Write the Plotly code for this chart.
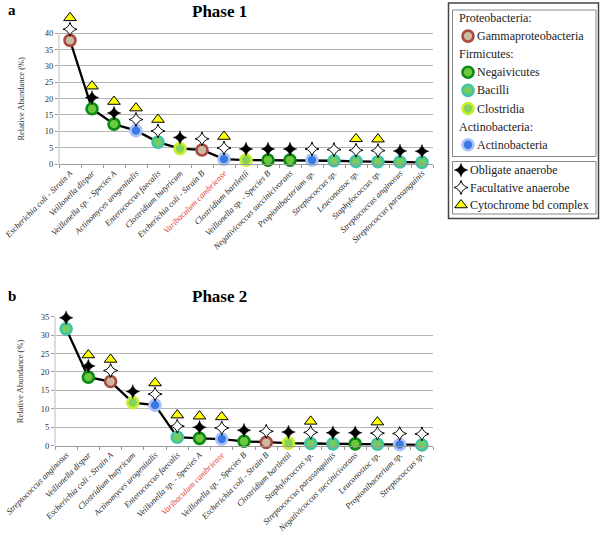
import plotly.graph_objects as go

# ---------------- data ----------------
p1_species = ["Escherichia coli - Strain A", "Veillonella dispar", "Veillonella sp. - Species A",
              "Actinomyces urogenitalis", "Enterococcus faecalis", "Clostridium butyricum",
              "Escherichia coli - Strain B", "Varibaculum cambriense", "Clostridium bartlettii",
              "Veillonella sp. - Species B", "Negativicoccus succinicivorans", "Propionibacterium sp.",
              "Streptococcus sp.", "Leuconostoc sp.", "Staphylococcus sp.",
              "Streptococcus anginosus", "Streptococcus parasanguinis"]
p1_values = [37.8, 16.9, 12.2, 10.2, 6.7, 4.7, 4.3, 1.5, 1.2, 1.2, 1.2, 1.2, 1.0, 0.8, 0.7, 0.6, 0.5]
p1_class = ["Gamma", "Nega", "Nega", "Actino", "Bacilli", "Clost", "Gamma", "Actino", "Clost",
            "Nega", "Nega", "Actino", "Bacilli", "Bacilli", "Bacilli", "Bacilli", "Bacilli"]
p1_anaerobe = ["F", "O", "O", "F", "F", "O", "F", "F", "O", "O", "O", "F", "F", "F", "F", "O", "O"]
p1_cyt = [1, 1, 1, 1, 1, 0, 0, 1, 0, 0, 0, 0, 0, 1, 1, 0, 0]

p2_species = ["Streptococcus anginosus", "Veillonella dispar", "Escherichia coli - Strain A",
              "Clostridium butyricum", "Actinomyces urogenitalis", "Enterococcus faecalis",
              "Veillonella sp. - Species A", "Varibaculum cambriense", "Veillonella sp. - Species B",
              "Escherichia coli - Strain B", "Clostridium bartlettii", "Staphylococcus sp.",
              "Streptococcus parasanguinis", "Negativicoccus succinicivorans", "Leuconostoc sp.",
              "Propionibacterium sp.", "Streptococcus sp."]
p2_values = [31.7, 18.6, 17.4, 11.7, 11.0, 2.3, 2.0, 1.8, 1.2, 0.9, 0.7, 0.6, 0.5, 0.5, 0.4, 0.3, 0.2]
p2_class = ["Bacilli", "Nega", "Gamma", "Clost", "Actino", "Bacilli", "Nega", "Actino", "Nega",
            "Gamma", "Clost", "Bacilli", "Bacilli", "Nega", "Bacilli", "Actino", "Bacilli"]
p2_anaerobe = ["O", "O", "F", "O", "F", "F", "O", "F", "O", "F", "O", "F", "O", "O", "F", "F", "F"]
p2_cyt = [0, 1, 1, 0, 1, 1, 1, 1, 0, 0, 0, 1, 0, 0, 1, 0, 0]

red_species = "Varibaculum cambriense"

p1_ticks = [0, 5, 10, 15, 20, 25, 30, 35, 40]
p2_ticks = [0, 5, 10, 15, 20, 25, 30, 35]

# legend content (order as in the key)
phyla = ["Proteobacteria:", "Firmicutes:", "Actinobacteria:"]
class_keys = ["Gamma", "Nega", "Bacilli", "Clost", "Actino"]
class_names = ["Gammaproteobacteria", "Negaivicutes", "Bacilli", "Clostridia", "Actinobacteria"]
class_phylum = ["Proteobacteria:", "Firmicutes:", "Firmicutes:", "Firmicutes:", "Actinobacteria:"]
trait_names = ["Obligate anaerobe", "Facultative anaerobe", "Cytochrome bd complex"]

# ---------------- styles ----------------
class_fill = {"Gamma": "#cdb9a2", "Nega": "#6cc83c", "Bacilli": "#76cc5e",
              "Clost": "#86d05c", "Actino": "#3a78e6"}
class_border = {"Gamma": "#a84a40", "Nega": "#0b8a14", "Bacilli": "#3fc4a6",
                "Clost": "#c6f02e", "Actino": "#a9c4f2"}
CIRCLE = dict(symbol="circle", size=11)
OBLIG = dict(symbol="star-diamond", size=10, color="black", line=dict(color="black", width=0.3))
FACUL = dict(symbol="star-diamond", size=10, color="white", line=dict(color="black", width=1.0))
TRI = dict(symbol="triangle-up", size=11, color="#ffff00", line=dict(color="black", width=1))

SERIF = "Liberation Serif"
H = 539.0
W = 600.0

# panel geometry (page px): plot-area x range, y of value 0, px per unit, top of axis range
P1 = dict(x0=59, x1=433, y0=164, ppu=3.27, top=47)
P2 = dict(x0=55, x1=433, y0=445.7, ppu=3.686, top=35)

fig = go.Figure()

panels = [
    (p1_species, p1_values, p1_class, p1_anaerobe, p1_cyt, "x", "y", 3.4, 6.9),
    (p2_species, p2_values, p2_class, p2_anaerobe, p2_cyt, "x2", "y2", 3.0, 6.0),
]

for sp, vals, cls, an, cyt, xa, ya, soff, toff in panels:
    fig.add_trace(go.Scatter(x=sp, y=vals, mode="lines", line=dict(color="black", width=2.3),
                             xaxis=xa, yaxis=ya, hoverinfo="skip"))
    for key, name in zip(class_keys, class_names):
        xs = [s for s, c in zip(sp, cls) if c == key]
        ys = [v for v, c in zip(vals, cls) if c == key]
        fig.add_trace(go.Scatter(
            x=xs, y=ys, mode="markers", name=name,
            marker=dict(CIRCLE, color=class_fill[key], line=dict(color=class_border[key], width=2.6)),
            xaxis=xa, yaxis=ya, cliponaxis=False))
    for code, name, mk in [("O", trait_names[0], OBLIG), ("F", trait_names[1], FACUL)]:
        xs = [s for s, a in zip(sp, an) if a == code]
        ys = [v + soff for v, a in zip(vals, an) if a == code]
        fig.add_trace(go.Scatter(x=xs, y=ys, mode="markers", name=name, marker=mk,
                                 xaxis=xa, yaxis=ya, cliponaxis=False))
    xs = [s for s, c in zip(sp, cyt) if c]
    ys = [v + toff for v, c in zip(vals, cyt) if c]
    fig.add_trace(go.Scatter(x=xs, y=ys, mode="markers", name=trait_names[2], marker=TRI,
                             xaxis=xa, yaxis=ya, cliponaxis=False))

# ---------------- key (drawn on its own hidden axes, in page-pixel units) ----------------
KX0, KY1 = 440.0, 225.0
rows = []
for ph in phyla:
    rows.append(("title", ph, None))
    for key, name, cph in zip(class_keys, class_names, class_phylum):
        if cph == ph:
            rows.append(("class", name, key))
ROW_H = 18.1
KEY_TOP = 18
annotations = []
for i, (kind, text, key) in enumerate(rows):
    yc = KEY_TOP + i * ROW_H
    if kind == "title":
        annotations.append(dict(text=text, x=457, y=yc, xref="x3", yref="y3", xanchor="left",
                                yanchor="middle", showarrow=False,
                                font=dict(family=SERIF, size=12, color="#222")))
    else:
        fig.add_trace(go.Scatter(
            x=[468], y=[yc], mode="markers", xaxis="x3", yaxis="y3", hoverinfo="skip",
            marker=dict(CIRCLE, color=class_fill[key], line=dict(color=class_border[key], width=2.6)),
            cliponaxis=False))
        annotations.append(dict(text=text, x=475, y=yc, xref="x3", yref="y3", xanchor="left",
                                yanchor="middle", showarrow=False,
                                font=dict(family=SERIF, size=12, color="#222")))
TRAIT_TOP = 170
for i, (name, mk) in enumerate(zip(trait_names, [OBLIG, FACUL, TRI])):
    yc = TRAIT_TOP + i * 17.5
    fig.add_trace(go.Scatter(x=[461], y=[yc], mode="markers", marker=mk, xaxis="x3", yaxis="y3",
                             hoverinfo="skip", cliponaxis=False))
    annotations.append(dict(text=name, x=468, y=yc, xref="x3", yref="y3", xanchor="left",
                            yanchor="middle", showarrow=False,
                            font=dict(family=SERIF, size=12, color="#222")))


def ticktext(sp):
    out = []
    for s in sp:
        if s == red_species:
            out.append("<span style='color:#e0392f'><i>%s</i></span>" % s)
        else:
            out.append("<i>%s</i>" % s)
    return out


xcommon = dict(type="category", tickangle=-45, showline=True, linecolor="#999", linewidth=1,
               ticks="outside", tickson="boundaries", ticklen=3, tickcolor="#999",
               showgrid=False, tickfont=dict(family=SERIF, size=8.5, color="#222"),
               automargin=False, fixedrange=True)
ycommon = dict(showline=False, ticks="outside", ticklen=3,
               tickcolor="#999", showgrid=True, gridcolor="#b5b5b5", gridwidth=1,
               tickfont=dict(family=SERIF, size=8.5, color="#333"), zeroline=False,
               automargin=False, fixedrange=True)


def ydomain(p):
    return [1 - p["y0"] / H, 1 - (p["y0"] - p["top"] * p["ppu"]) / H]


annotations += [
    dict(text="<b>Phase 1</b>", x=220 / W, y=1 - 12 / H, xref="paper", yref="paper",
         xanchor="center", yanchor="middle",
         showarrow=False, font=dict(family=SERIF, size=17, color="black")),
    dict(text="<b>a</b>", x=12 / W, y=1 - 10 / H, xref="paper", yref="paper",
         xanchor="center", yanchor="middle",
         showarrow=False, font=dict(family=SERIF, size=15, color="black")),
    dict(text="<b>Phase 2</b>", x=219 / W, y=1 - 296 / H, xref="paper", yref="paper",
         xanchor="center", yanchor="middle",
         showarrow=False, font=dict(family=SERIF, size=17, color="black")),
    dict(text="<b>b</b>", x=12 / W, y=1 - 296 / H, xref="paper", yref="paper",
         xanchor="center", yanchor="middle",
         showarrow=False, font=dict(family=SERIF, size=15, color="black")),
    dict(text="Relative Abundance (%)", x=21 / W, y=20, xref="paper", yref="y", textangle=-90,
         xanchor="center", yanchor="middle", showarrow=False,
         font=dict(family=SERIF, size=8.5, color="#333")),
    dict(text="Relative Abundance (%)", x=20 / W, y=17.5, xref="paper", yref="y2", textangle=-90,
         xanchor="center", yanchor="middle", showarrow=False,
         font=dict(family=SERIF, size=8.5, color="#333")),
]

fig.update_layout(
    width=600, height=539,
    margin=dict(l=0, r=0, t=0, b=0),
    plot_bgcolor="rgba(0,0,0,0)", paper_bgcolor="white",
    font=dict(family=SERIF, color="#222"),
    showlegend=False,
    xaxis=dict(xcommon, domain=[P1["x0"] / W, P1["x1"] / W], anchor="y",
               tickvals=p1_species, ticktext=ticktext(p1_species), range=[-0.5, 16.5]),
    yaxis=dict(ycommon, domain=ydomain(P1), anchor="x", range=[0, P1["top"]], tickvals=p1_ticks),
    xaxis2=dict(xcommon, domain=[P2["x0"] / W, P2["x1"] / W], anchor="y2",
                tickvals=p2_species, ticktext=ticktext(p2_species), range=[-0.5, 16.5]),
    yaxis2=dict(ycommon, domain=ydomain(P2), anchor="x2", range=[0, P2["top"]], tickvals=p2_ticks),
    xaxis3=dict(domain=[KX0 / W, 1], range=[KX0, W], visible=False, fixedrange=True, anchor="y3"),
    yaxis3=dict(domain=[1 - KY1 / H, 1], range=[KY1, 0], visible=False, fixedrange=True, anchor="x3"),
    shapes=[
        # y axis lines (only up to the top gridline)
        dict(type="line", xref="x domain", yref="y", x0=0, x1=0, y0=0, y1=p1_ticks[-1],
             line=dict(color="#bbb", width=1)),
        dict(type="line", xref="x2 domain", yref="y2", x0=0, x1=0, y0=0, y1=p2_ticks[-1],
             line=dict(color="#bbb", width=1)),
        # key boxes
        dict(type="rect", xref="paper", yref="paper", x0=448.5 / W, x1=598.5 / W,
             y0=1 - 218.5 / H, y1=1 - 3 / H, line=dict(color="#444", width=1.5)),
        dict(type="rect", xref="paper", yref="paper", x0=452.5 / W, x1=596 / W,
             y0=1 - 156.5 / H, y1=1 - 10 / H, line=dict(color="#888", width=1)),
        dict(type="rect", xref="paper", yref="paper", x0=452.5 / W, x1=596 / W,
             y0=1 - 214 / H, y1=1 - 161.5 / H, line=dict(color="#888", width=1)),
    ],
    annotations=annotations,
)

fig.write_html("out.html", config={"displayModeBar": False},
               post_script="document.body.style.margin='0';")
